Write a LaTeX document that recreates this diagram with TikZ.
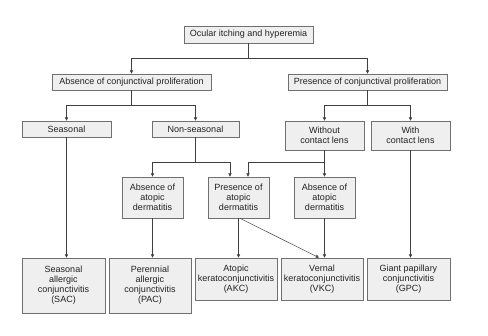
\documentclass[tikz,border=0pt]{standalone}
\usepackage{fontspec}
\setmainfont{Liberation Sans}
\usetikzlibrary{arrows.meta}
\definecolor{boxfill}{HTML}{EFEFEF}
\definecolor{boxline}{HTML}{707070}
\definecolor{conn}{HTML}{404040}
\definecolor{txt}{HTML}{222222}
\begin{document}
\begin{tikzpicture}[x=1pt,y=-1pt,
  box/.style={draw=boxline,fill=boxfill,line width=0.7pt,inner sep=0pt,align=center,
    text=txt,font=\fontsize{9}{10}\selectfont},
  link/.style={draw=conn,line width=0.5pt},
  arr/.style={link,-{Triangle[length=3.2pt,width=3.2pt]}}]
\useasboundingbox (0,0) rectangle (488,336);
\fill[white] (0,0) rectangle (488,336);
% nodes
\node[box,minimum width=129pt,minimum height=17pt] (top) at (248.5,34.5) {Ocular itching and hyperemia};
\node[box,minimum width=159pt,minimum height=16pt] (absConj) at (131.5,82) {Absence of conjunctival proliferation};
\node[box,minimum width=159pt,minimum height=16pt] (presConj) at (367.5,82) {Presence of conjunctival proliferation};
\node[box,minimum width=89pt,minimum height=16pt] (seasonal) at (66.5,129) {Seasonal};
\node[box,minimum width=87pt,minimum height=16pt] (nonseas) at (195.5,129) {Non-seasonal};
\node[box,minimum width=79pt,minimum height=29pt] (without) at (324.5,135.5) {Without\\contact lens};
\node[box,minimum width=79pt,minimum height=29pt] (with) at (410.5,135.5) {With\\contact lens};
\node[box,minimum width=61pt,minimum height=41pt] (absAtopA) at (152.5,197.5) {Absence of\\atopic\\dermatitis};
\node[box,minimum width=61pt,minimum height=41pt] (presAtop) at (238.5,197.5) {Presence of\\atopic\\dermatitis};
\node[box,minimum width=61pt,minimum height=41pt] (absAtopB) at (324.5,197.5) {Absence of\\atopic\\dermatitis};
\node[box,minimum width=83pt,minimum height=55pt] (sac) at (63.5,285.5) {Seasonal\\allergic\\conjunctivitis\\(SAC)};
\node[box,minimum width=82pt,minimum height=55pt] (pac) at (150,285.5) {Perennial\\allergic\\conjunctivitis\\(PAC)};
\node[box,minimum width=82pt,minimum height=42pt] (akc) at (236,279) {Atopic\\keratoconjunctivitis\\(AKC)};
\node[box,minimum width=82pt,minimum height=42pt] (vkc) at (322,279) {Vernal\\keratoconjunctivitis\\(VKC)};
\node[box,minimum width=83pt,minimum height=42pt] (gpc) at (408.5,279) {Giant papillary\\conjunctivitis\\(GPC)};
% junctions
\coordinate (j1) at (248.5,58);
\coordinate (j2) at (131.5,105);
\coordinate (j3) at (367.5,105);
\coordinate (j4) at (195.5,162);
\coordinate (j5) at (324.5,162);
% connectors
\draw[link] (top) -- (j1);
\draw[arr] (j1) -| (absConj);
\draw[arr] (j1) -| (presConj);
\draw[link] (absConj) -- (j2);
\draw[arr] (j2) -| (seasonal);
\draw[arr] (j2) -| (nonseas);
\draw[link] (presConj) -- (j3);
\draw[arr] (j3) -| (without);
\draw[arr] (j3) -| (with);
\draw[link] (nonseas) -- (j4);
\draw[arr] (j4) -| (absAtopA);
\draw[arr] (j4) -| ([xshift=-8.5pt]presAtop.north);
\draw[link] (without) -- (j5);
\draw[arr] (j5) -| (absAtopB);
\draw[arr] (j5) -| ([xshift=9.5pt]presAtop.north);
\draw[arr] (seasonal.south) -- (seasonal.south |- sac.north);
\draw[arr] (absAtopA.south) -- (absAtopA.south |- pac.north);
\draw[arr] (presAtop.south) -- (presAtop.south |- akc.north);
\draw[arr] ([xshift=1.5pt]presAtop.south) -- ([xshift=-3pt]vkc.north);
\draw[arr] (absAtopB.south) -- (absAtopB.south |- vkc.north);
\draw[arr] (with.south) -- (with.south |- gpc.north);
\end{tikzpicture}
\end{document}
